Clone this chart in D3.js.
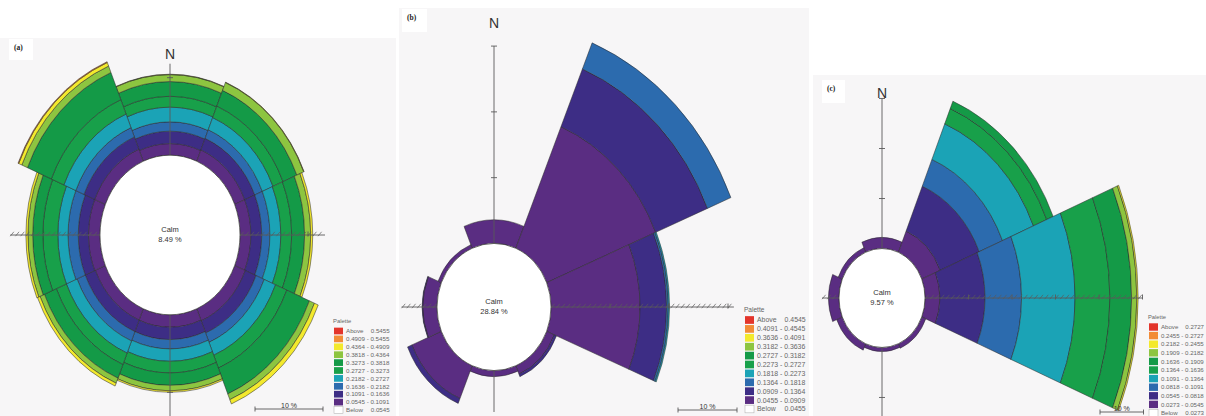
<!DOCTYPE html>
<html><head><meta charset="utf-8">
<script src="https://cdn.jsdelivr.net/npm/d3@7"></script>
<style>body{margin:0;background:#fff}svg{display:block}</style>
</head><body>
<svg id="fig" width="1206" height="416"></svg>
<script>
// Compass sectors, clockwise from north (45° each)
const directions = ["N","NE","E","SE","S","SW","W","NW"];

// Class break values shown in each palette (lowest first)
const breaksA = ["0.0545","0.1091","0.1636","0.2182","0.2727","0.3273","0.3818","0.4364","0.4909","0.5455"];
const breaksB = ["0.0455","0.0909","0.1364","0.1818","0.2273","0.2727","0.3182","0.3636","0.4091","0.4545"];
const breaksC = ["0.0273","0.0545","0.0818","0.1091","0.1364","0.1636","0.1909","0.2182","0.2455","0.2727"];

// Calm percentages
const calmA = 8.49, calmB = 28.84, calmC = 9.57;

// Frequency (%) per direction, split by class (lowest class first)
const roseA = [
  [1.5,1.6,1.2,1.9,1.4,1.9,0.9,0.05,0,0],
  [1.6,1.6,1.2,1.7,1.6,2.2,1.1,0.05,0,0],
  [1.6,1.6,1.2,1.6,1.6,1.9,0.9,0.3,0,0],
  [1.7,1.7,1.3,1.8,1.8,3.6,0.8,0.6,0,0],
  [1.6,1.6,1.2,1.6,1.5,1.6,0.7,0.2,0,0],
  [1.6,1.6,1.3,1.7,1.6,1.9,0.7,0.4,0,0],
  [1.7,1.5,1.5,1.5,2.2,1.5,0.7,0.3,0,0],
  [1.7,1.7,1.3,1.9,2.0,3.8,0.9,0.5,0.1,0]
];
const roseB = [
  [3.6,0,0,0,0,0,0,0,0,0],
  [20.0,9.5,4.3,0,0,0,0,0,0,0],
  [15.1,4.5,0.3,0.2,0,0,0,0,0,0],
  [1.4,0.4,0,0,0,0,0,0,0,0],
  [0.9,0,0,0,0,0,0,0,0,0],
  [5.4,0.8,0,0,0,0,0,0,0,0],
  [2.4,0.1,0,0,0,0,0,0,0,0],
  [0.6,0,0,0,0,0,0,0,0,0]
];
const roseC = [
  [2.2,0,0,0,0,0,0,0,0,0],
  [4.6,9.7,5.8,7.7,3.3,1.6,0,0,0,0],
  [3.4,10.4,8.4,12.3,8.0,5.0,1.2,0.3,0,0],
  [1.0,0,0,0,0,0,0,0,0,0],
  [0.8,0,0,0,0,0,0,0,0,0],
  [1.4,0,0,0,0,0,0,0,0,0],
  [2.4,0,0,0,0,0,0,0,0,0],
  [1.0,0,0,0,0,0,0,0,0,0]
];

// Palette colours, lowest class first; last entry is "Above"
const bandColors = ["#5a2d82","#3d2d85","#2c6bae","#1ba3b6","#18a04a","#149a47","#8dc540","#f3e92d","#f28c37","#e3352b"];

const panels = [
  {tag:"(a)", rose:roseA, calm:calmA, breaks:breaksA,
   bg:[0,38,396,378], tagBox:[9,39,24,21], cx:170, cy:235, sx:6.8, k:1.14, rx:70,
   reach:[11.8,12.5,13.3,13.2], nY:59,
   legend:{x:334, y:323, step:7.9, fs:6.2}, bar:{x:255, y:409}},
  {tag:"(b)", rose:roseB, calm:calmB, breaks:breaksB,
   bg:[399,8,410,408], tagBox:[402,9,25,23], cx:494, cy:307, sx:5.9, k:1.115, rx:57,
   reach:[30,31,6.3,6.0], nY:28,
   legend:{x:745, y:312, step:8.9, fs:6.9}, bar:{x:678, y:410}},
  {tag:"(c)", rose:roseC, calm:calmC, breaks:breaksC,
   bg:[813,75,393,341], tagBox:[822,80,23,23], cx:882, cy:298, sx:4.35, k:1.15, rx:43,
   reach:[30,50,14,3.9], nY:98,
   legend:{x:1149, y:319, step:8.6, fs:6.1}, bar:{x:1100, y:412}}
];

const svg = d3.select("#fig");
const deg = Math.PI / 180;
const sans = "Liberation Sans, Arial, sans-serif";

panels.forEach(p => {
  const g = svg.append("g");
  g.append("rect").attr("x", p.bg[0]).attr("y", p.bg[1]).attr("width", p.bg[2]).attr("height", p.bg[3])
    .attr("fill", "#f7f6f7");

  // radial scale: % beyond the calm circle -> px (horizontal units)
  const r = d3.scaleLinear().domain([0, 10]).range([p.rx, p.rx + 10 * p.sx]);
  const sy = p.sx * p.k, ry = p.rx * p.k;
  const angle = d3.scaleBand().domain(directions).range([-22.5 * deg, 337.5 * deg]);

  const rose = g.append("g").attr("transform", `translate(${p.cx},${p.cy}) scale(1,${p.k})`);
  const segs = [];
  directions.forEach((d, i) => {
    let cum = 0;
    p.rose[i].forEach((v, j) => {
      if (v > 0) { segs.push({d, j, inner: cum, outer: cum + v}); cum += v; }
    });
  });
  const arc = d3.arc()
    .innerRadius(s => r(s.inner)).outerRadius(s => r(s.outer))
    .startAngle(s => angle(s.d)).endAngle(s => angle(s.d) + angle.bandwidth());
  rose.selectAll("path").data(segs).join("path")
    .attr("d", arc).attr("fill", s => bandColors[s.j])
    .attr("stroke", "#2a2a2a").attr("stroke-opacity", 0.75).attr("stroke-width", 0.7)
    .attr("vector-effect", "non-scaling-stroke");

  // calm circle
  g.append("ellipse").attr("cx", p.cx).attr("cy", p.cy).attr("rx", p.rx).attr("ry", ry)
    .attr("fill", "#fff").attr("stroke", "#333").attr("stroke-width", 0.7);

  // compass arms
  const ax = g.append("g").attr("stroke", "#5a5a5a").attr("stroke-width", 0.9).attr("fill", "none");
  const [rN, rE, rS, rW] = p.reach;
  ax.append("line").attr("x1", p.cx).attr("x2", p.cx).attr("y1", p.cy - ry).attr("y2", p.cy - ry - rN * sy);
  ax.append("line").attr("x1", p.cx).attr("x2", p.cx).attr("y1", p.cy + ry).attr("y2", p.cy + ry + rS * sy);
  ax.append("line").attr("y1", p.cy).attr("y2", p.cy).attr("x1", p.cx + p.rx).attr("x2", p.cx + p.rx + rE * p.sx);
  ax.append("line").attr("y1", p.cy).attr("y2", p.cy).attr("x1", p.cx - p.rx).attr("x2", p.cx - p.rx - rW * p.sx);
  // ticks every 10 % along the vertical arm
  d3.range(10, rN + 0.5, 10).forEach(t => {
    const y = p.cy - ry - t * sy;
    ax.append("line").attr("x1", p.cx - 3).attr("x2", p.cx + 3).attr("y1", y).attr("y2", y);
  });
  d3.range(10, rS + 0.5, 10).forEach(t => {
    const y = p.cy + ry + t * sy;
    ax.append("line").attr("x1", p.cx - 3).attr("x2", p.cx + 3).attr("y1", y).attr("y2", y);
  });
  // hatched horizontal arms
  const hatch = (x0, x1) => {
    for (let x = Math.min(x0, x1) + 2; x <= Math.max(x0, x1); x += 5.2) {
      ax.append("line").attr("x1", x - 2).attr("y1", p.cy + 1.2).attr("x2", x + 1.6).attr("y2", p.cy - 3.2)
        .attr("stroke-width", 0.7);
    }
  };
  hatch(p.cx + p.rx, p.cx + p.rx + rE * p.sx);
  hatch(p.cx - p.rx, p.cx - p.rx - rW * p.sx);
  d3.range(10, rE + 0.5, 10).forEach(t => {
    const x = p.cx + p.rx + t * p.sx;
    ax.append("line").attr("x1", x).attr("x2", x).attr("y1", p.cy - 3.5).attr("y2", p.cy + 1.5);
  });

  // calm label
  g.append("text").attr("x", p.cx).attr("y", p.cy - 3).attr("text-anchor", "middle")
    .attr("font-family", sans).attr("font-size", 7.5).attr("fill", "#333").text("Calm");
  g.append("text").attr("x", p.cx).attr("y", p.cy + 6.5).attr("text-anchor", "middle")
    .attr("font-family", sans).attr("font-size", 7.5).attr("fill", "#333")
    .text(d3.format(".2f")(p.calm) + " %");

  // north label
  g.append("text").attr("x", p.cx).attr("y", p.nY).attr("text-anchor", "middle")
    .attr("font-family", sans).attr("font-size", 14).attr("fill", "#333").text("N");

  // panel tag
  g.append("rect").attr("x", p.tagBox[0]).attr("y", p.tagBox[1]).attr("width", p.tagBox[2]).attr("height", p.tagBox[3]).attr("fill", "#fff");
  g.append("text").attr("x", p.tagBox[0] + 5).attr("y", p.tagBox[1] + 11)
    .attr("font-family", "Liberation Serif, Times New Roman, serif").attr("font-weight", "bold")
    .attr("font-size", 7.5).attr("fill", "#222").text(p.tag);

  // palette legend
  const L = p.legend, fs = L.fs, tx = L.x + 12, rightX = tx + 7.05 * fs;
  const lg = g.append("g").attr("font-family", sans).attr("font-size", fs).attr("fill", "#666");
  lg.append("text").attr("x", L.x - 1).attr("y", L.y).attr("font-size", fs * 0.95).text("Palette");
  const rows = [];
  rows.push({c: bandColors[9], a: "Above", b: p.breaks[9]});
  for (let j = 8; j >= 0; j--) rows.push({c: bandColors[j], a: `${p.breaks[j]} - ${p.breaks[j + 1]}`, b: null});
  rows.push({c: "#fff", a: "Below", b: p.breaks[0]});
  rows.forEach((row, i) => {
    const yc = L.y + 8 + i * L.step;
    lg.append("rect").attr("x", L.x).attr("y", yc - L.step / 2 + 0.6).attr("width", 9).attr("height", L.step - 1.2)
      .attr("fill", row.c).attr("stroke", row.c === "#fff" ? "#aaa" : "none").attr("stroke-width", 0.5);
    lg.append("text").attr("x", tx).attr("y", yc + fs * 0.36).text(row.a);
    if (row.b) lg.append("text").attr("x", rightX).attr("y", yc + fs * 0.36).attr("text-anchor", "end").text(row.b);
  });

  // 10 % scale bar
  const bw = 10 * p.sx, b = p.bar;
  const sb = g.append("g").attr("stroke", "#444").attr("stroke-width", 0.8);
  sb.append("line").attr("x1", b.x).attr("x2", b.x + bw).attr("y1", b.y).attr("y2", b.y);
  sb.append("line").attr("x1", b.x).attr("x2", b.x).attr("y1", b.y - 2.5).attr("y2", b.y + 2.5);
  sb.append("line").attr("x1", b.x + bw).attr("x2", b.x + bw).attr("y1", b.y - 2.5).attr("y2", b.y + 2.5);
  g.append("text").attr("x", b.x + bw / 2).attr("y", b.y - 1.5).attr("text-anchor", "middle")
    .attr("font-family", sans).attr("font-size", 7).attr("fill", "#333").text("10 %");
});
</script>
</body></html>
